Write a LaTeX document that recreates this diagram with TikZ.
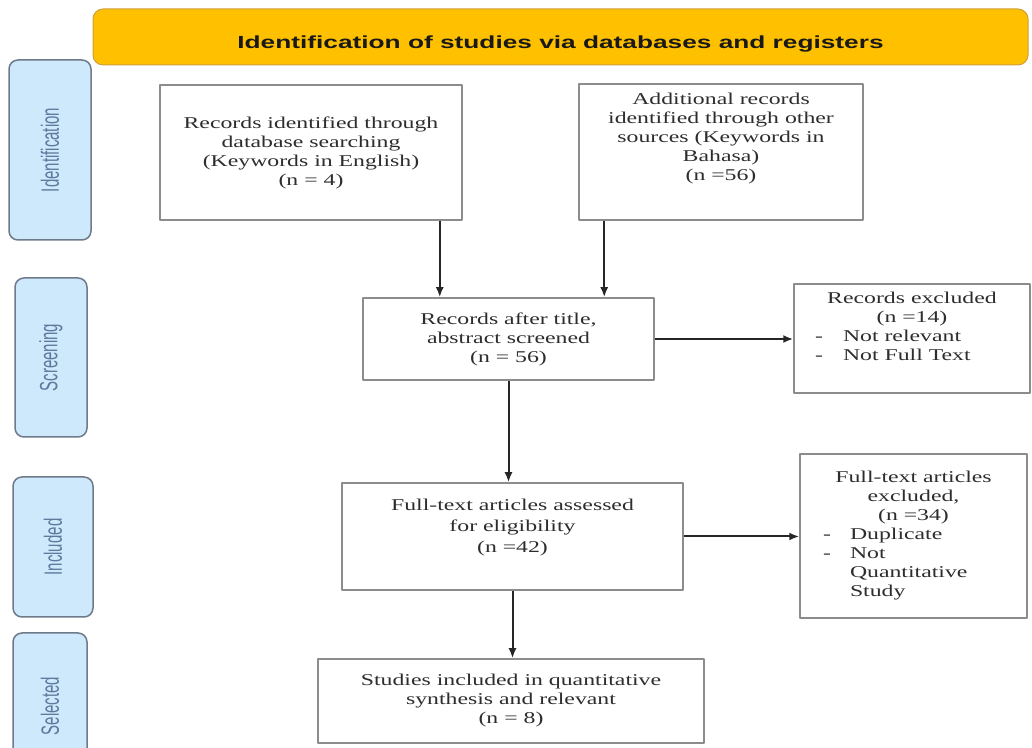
\documentclass[tikz,border=0pt]{standalone}
\usepackage{fontspec}
\setmainfont{Liberation Serif}
\newfontfamily\boxfont[FakeStretch=1.44]{Liberation Serif}
\newfontfamily\sidefont[FakeStretch=0.6]{Liberation Sans}
\newfontfamily\bannerfont[FakeStretch=1.5]{Liberation Sans}
\usetikzlibrary{arrows.meta,shapes,positioning}

\definecolor{bannerfill}{RGB}{255,192,0}
\definecolor{bannerline}{RGB}{205,160,60}
\definecolor{sidefill}{RGB}{205,233,251}
\definecolor{sideline}{RGB}{110,122,138}
\definecolor{sidetext}{RGB}{95,120,158}
\definecolor{boxline}{RGB}{140,140,140}
\definecolor{boxtext}{RGB}{45,45,45}

\tikzset{
  banner/.style={draw=bannerline, fill=bannerfill, rounded corners=10bp, line width=1bp,
    minimum width=935bp, minimum height=56bp, inner sep=0pt, text=black!90,
    font=\bannerfont\bfseries\fontsize{17.5bp}{20bp}\selectfont},
  sidebox/.style={draw=sideline, fill=sidefill, rounded corners=9bp, line width=1.5bp,
    rotate=90, inner sep=0pt, text=sidetext, font=\sidefont\fontsize{25bp}{27bp}\selectfont},
  mainbox/.style={draw=boxline, fill=white, line width=1.5bp, inner sep=0pt,
    align=center, text=boxtext, font=\boxfont\fontsize{16.5bp}{19bp}\selectfont},
  flow/.style={->, line width=2bp, draw=black!85},
}

\begin{document}
\begin{tikzpicture}[>={Latex[length=10bp,width=8bp]},line join=bevel,]

\pgfsetlinewidth{1bp}
\clip (0bp,0bp) rectangle (1032bp,748bp);

% Node: head
\node [banner] (head) at (560.5bp,711bp) {\raisebox{-12bp}[0pt][0pt]{Identification of studies via databases and registers}};

% Node: side labels
\node [sidebox, minimum width=180bp, minimum height=82bp] (idn) at (50bp,598bp) {Identification};
\node [sidebox, minimum width=159bp, minimum height=72bp] (scr) at (51bp,390.5bp) {Screening};
\node [sidebox, minimum width=140bp, minimum height=80bp] (inc) at (53bp,201bp) {Included};
\node [sidebox, minimum width=146bp, minimum height=74bp] (sel) at (50bp,42bp) {Selected};

% Node: recdb
\node [mainbox, minimum width=302bp, minimum height=135bp] (recdb) at (311bp,595.5bp)
  {Records identified through\\ database searching\\ (Keywords in English)\\ (n = 4)};

% Node: recoth
\node [mainbox, minimum width=284bp, minimum height=136bp] (recoth) at (721bp,596bp)
  {Additional records\\ identified through other\\ sources (Keywords in\\ Bahasa)\\ (n =56)\\[12bp]};

% Node: screened
\node [mainbox, minimum width=291bp, minimum height=82bp] (screened) at (508.5bp,409bp)
  {Records after title,\\ abstract screened\\ (n = 56)};

% Node: excl1
\node [mainbox, minimum width=236bp, minimum height=109bp] (excl1) at (912bp,409.5bp)
  {Records excluded\\ (n =14)\\
   \makebox[194bp][l]{\makebox[28bp][l]{-}Not relevant}\\
   \makebox[194bp][l]{\makebox[28bp][l]{-}Not Full Text}\\[6bp]};

% Node: fulltext
\node [mainbox, minimum width=341bp, minimum height=107bp] (fulltext) at (512.5bp,211.5bp)
  {Full-text articles assessed\\[2bp] for eligibility\\[2bp] (n =42)\\[2bp]};

% Node: excl2
\node [mainbox, minimum width=227bp, minimum height=164bp] (excl2) at (913.5bp,212bp)
  {Full-text articles\\ excluded,\\ (n =34)\\
   \makebox[181bp][l]{\makebox[27bp][l]{-}Duplicate}\\
   \makebox[181bp][l]{\makebox[27bp][l]{-}Not}\\
   \makebox[181bp][l]{\hspace{27bp}Quantitative}\\
   \makebox[181bp][l]{\hspace{27bp}Study}};

% Node: incl
\node [mainbox, minimum width=386bp, minimum height=84bp] (incl) at (511bp,47bp)
  {Studies included in quantitative\\ synthesis and relevant\\ (n = 8)};

% Edge: recdb -> screened
\coordinate (a1) at ([xshift=-23bp]recdb.south east);
\draw [flow] (a1) -- (a1 |- screened.north);

% Edge: recoth -> screened
\coordinate (b1) at ([xshift=26bp]recoth.south west);
\draw [flow] (b1) -- (b1 |- screened.north);

% Edge: screened -> excl1
\draw [flow] (screened.east) -- (screened.east -| excl1.west);

% Edge: screened -> fulltext
\draw [flow] (screened.south) -- (screened.south |- fulltext.north);

% Edge: fulltext -> excl2
\draw [flow] (fulltext.east) -- (fulltext.east -| excl2.west);

% Edge: fulltext -> incl
\draw [flow] (fulltext.south) -- (fulltext.south |- incl.north);

\end{tikzpicture}
\end{document}
